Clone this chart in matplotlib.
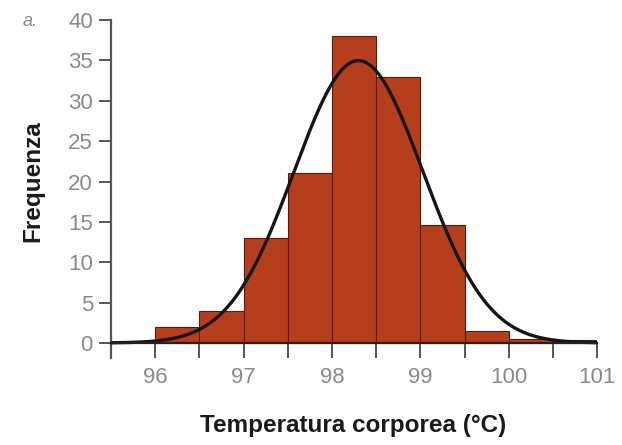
import numpy as np
import matplotlib
matplotlib.use("Agg")
import matplotlib.pyplot as plt

# Data
bin_left = [96.0, 96.5, 97.0, 97.5, 98.0, 98.5, 99.0, 99.5, 100.0, 100.5]
freq = [2, 4, 13, 21, 38, 33, 14.6, 1.5, 0.5, 0.4]
bin_width = 0.5
fit_mean = 98.3
fit_sd = 0.73
fit_n = 128
x_ticks = [96, 97, 98, 99, 100, 101]
y_ticks = [0, 5, 10, 15, 20, 25, 30, 35, 40]

plt.rcParams['font.family'] = ['Liberation Sans', 'DejaVu Sans']

fig = plt.figure(figsize=(6.22, 4.45), dpi=100)
ax = fig.add_axes([0.1785, 0.1966, 0.960 - 0.1785, 0.955 - 0.1966])

ax.bar(bin_left, freq, width=bin_width, align='edge', color='#B63E1D',
       edgecolor='#5a1a0c', linewidth=0.8, zorder=2)

xs = np.linspace(95.5, 101, 400)
ys = fit_n * bin_width / (fit_sd * np.sqrt(2 * np.pi)) * np.exp(-0.5 * ((xs - fit_mean) / fit_sd) ** 2)
ax.plot(xs, ys, color='#151515', lw=2.4, zorder=3, solid_capstyle='round')

ax.set_xlim(95.5, 101)
ax.set_ylim(-1.8, 40)

for s in ['top', 'right']:
    ax.spines[s].set_visible(False)
ax.spines['bottom'].set_position(('data', 0))
ax.spines['bottom'].set_color('#222222')
ax.spines['bottom'].set_linewidth(1.6)
ax.spines['bottom'].set_zorder(4)
ax.spines['left'].set_color('#555555')
ax.spines['left'].set_linewidth(1.6)

ax.set_xticks(x_ticks)
ax.set_xticklabels([str(t) for t in x_ticks])
ax.set_xticks([95.5, 96.5, 97.5, 98.5, 99.5, 100.5], minor=True)
ax.tick_params(axis='x', which='both', direction='out', length=11, width=1.4,
               color='#555555', labelcolor='#8a8a8a', labelsize=16, pad=6)
ax.set_yticks(y_ticks)
ax.tick_params(axis='y', direction='out', length=9, width=1.4, color='#555555',
               labelcolor='#8a8a8a', labelsize=16, pad=4)

ax.set_xlabel('Temperatura corporea (°C)', fontsize=17.5, fontweight='bold',
              color='#1a1a1a', va='center')
ax.xaxis.set_label_coords(0.499, -0.20)
ax.set_ylabel('Frequenza', fontsize=17.5, fontweight='bold', color='#1a1a1a', va='center')
ax.yaxis.set_label_coords(-0.160, 0.523)

fig.text(30 / 622, 1 - 22 / 445, 'a.', fontsize=13, style='italic', color='#8a8a8a',
         ha='center', va='center')

fig.savefig('out.png', dpi=100)
